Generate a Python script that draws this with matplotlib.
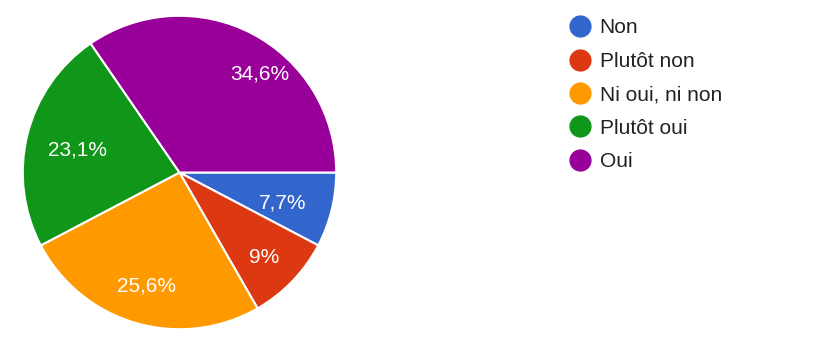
import matplotlib.pyplot as plt
from matplotlib.lines import Line2D

plt.rcParams['font.family'] = ['Liberation Sans', 'DejaVu Sans']

categories = ['Non', 'Plutôt non', 'Ni oui, ni non', 'Plutôt oui', 'Oui']
values = [7.7, 9.0, 25.6, 23.1, 34.6]
colors = ['#3366cc', '#dc3912', '#ff9900', '#109618', '#990099']


def fmt(p):
    s = '%.1f' % p
    if s.endswith('.0'):
        s = s[:-2]
    return s.replace('.', ',') + '%'


fig = plt.figure(figsize=(8.16, 3.45), dpi=100)
ax = fig.add_axes([22 / 816, 15 / 345, 315 / 816, 315 / 345])

wedges, texts, autotexts = ax.pie(values, colors=colors, startangle=0, counterclock=False,
                                  autopct=fmt, pctdistance=0.72,
                                  wedgeprops=dict(edgecolor='white', linewidth=1.5),
                                  textprops=dict(color='white', fontsize=15))
# small nudges so labels sit where the original places them
nudge = [(-0.04, -0.02), (0.02, -0.04), (-0.01, -0.03), (0.05, -0.03), (0.18, -0.01)]
for t, (dx, dy) in zip(autotexts, nudge):
    x, y = t.get_position()
    t.set_position((x + dx, y + dy))

ax.set_xlim(-1.005, 1.005)
ax.set_ylim(-1.005, 1.005)
ax.set_aspect('equal')

handles = [Line2D([0], [0], marker='o', linestyle='', markersize=15,
                  markerfacecolor=c, markeredgecolor=c) for c in colors]
fig.legend(handles, categories, loc='upper left', bbox_to_anchor=(558 / 816, 1 - 8 / 345),
           frameon=False, fontsize=15, labelspacing=0.69, handletextpad=0.4,
           handlelength=1.1, borderpad=0, labelcolor='#222222')

fig.savefig('out.png', dpi=100)
